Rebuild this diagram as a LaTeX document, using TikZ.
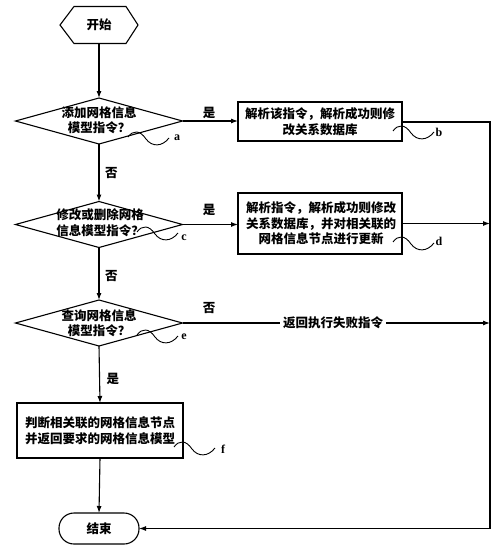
\documentclass[tikz,border=0pt]{standalone}
\usepackage{fontspec}
\newfontfamily\cjk{Noto Sans CJK SC}
\newfontfamily\lbl{Liberation Serif}
\usetikzlibrary{shapes.geometric,arrows.meta}
\begin{document}
\begin{tikzpicture}[x=1pt,y=-1pt,
  line width=1.1pt,
  every node/.style={inner sep=0pt,outer sep=0pt},
  txt/.style={font=\cjk\bfseries\fontsize{12.5}{15.5}\selectfont,align=center},
  dec/.style={draw,diamond,minimum width=167pt,minimum height=46pt},
  proc/.style={draw,rectangle,minimum width=164pt},
  term/.style={draw,rectangle,rounded corners=15pt,minimum width=80pt,minimum height=31pt,font=\cjk\bfseries\fontsize{12.5}{15}\selectfont},
  yn/.style={font=\cjk\bfseries\fontsize{12.5}{15}\selectfont},
  arr/.style={-{Latex[length=7pt,width=5pt]}},
  wv/.style={line width=0.9pt},
  lab/.style={font=\lbl\bfseries\fontsize{12}{14}\selectfont},
  wave/.pic={\draw[wv] (0,0) .. controls (5,-7) and (12,-7) .. (18,2) .. controls (24,10) and (34,10) .. (41,1);}
]
\useasboundingbox (0,0) rectangle (500,554);

% start hexagon
\node[minimum width=78pt,minimum height=37pt,font=\cjk\bfseries\fontsize{12.5}{15}\selectfont] (start) at (99,25) {开始};
\draw (start.west) -- ([xshift=14pt]start.north west) -- ([xshift=-12pt]start.north east) -- (start.east)
  -- ([xshift=-12pt]start.south east) -- ([xshift=14pt]start.south west) -- cycle;

% decisions
\node[dec] (d1) at (99,121) {};
\node[txt] (d1t) at (99,120) {添加网格信息\\模型指令？};
\node[dec] (d2) at (99,224.5) {};
\node[txt] (d2t) at (100,222.5) {修改或删除网格\\信息模型指令？};
\node[dec] (d3) at (99,323) {};
\node[txt] (d3t) at (99,323) {查询网格信息\\模型指令？};

% process boxes
\node[proc,minimum height=39pt] (b) at (320,121.5) {};
\node[txt] (bt) at (320,121.5) {解析该指令，解析成功则修\\改关系数据库};
\node[proc,minimum height=61pt] (d) at (320,223.5) {};
\node[txt] (dt) at (321,223.5) {解析指令，解析成功则修改\\关系数据库，并对相关联的\\网格信息节点进行更新};
\node[draw,rectangle,minimum width=166pt,minimum height=55pt] (f) at (100,430.5) {};
\node[txt] (ft) at (100,430.5) {判断相关联的网格信息节点\\并返回要求的网格信息模型};

% end
\node[term] (end) at (99,528.5) {结束};

% right collector line
\coordinate (rx) at (490,0);

% main flow
\draw[arr] (start.south) -- (d1.north);
\draw[arr] (d1.south) -- node[yn,pos=0.5,anchor=west,xshift=6pt] (n1) {否} (d2.north);
\draw[arr] (d2.south) -- node[yn,pos=0.55,anchor=west,xshift=6pt] (n2) {否} (d3.north);
\draw[arr] (d3.south) -- node[yn,pos=0.58,anchor=west,xshift=7pt] (y3) {是} (f.north);
\draw[arr] (f.south) -- (end.north);

\draw[arr] (d1.east) -- (d1.east -| b.west);
\node[yn] (y1) at (209,113) {是};
\draw[arr] (d2.east) -- (d2.east -| d.west);
\node[yn] (y2) at (209,210) {是};

\draw (b.east |- 0,122) -- (rx |- 0,122) -- (rx |- end.east);
\draw[arr] (rx |- end.east) -- (end.east);
\draw[arr] (d.east) -- (d.east -| rx);
\draw[arr] (d3.east) -- node[pos=0.49,fill=white,inner xsep=3pt,inner ysep=2pt,yn] (fail) {返回执行失败指令} (d3.east -| rx);
\node[yn] (n3) at (209,308) {否};

% squiggles with labels
\pic at (128,137) {wave};
\node[lab] (la) at (177,138) {a};
\pic at (393,131) {wave};
\node[lab] (lb) at (439,132) {b};
\pic at (137,232) {wave};
\node[lab] (lc) at (184,238) {c};
\pic at (393,242) {wave};
\node[lab] (ld) at (439,241) {d};
\pic at (137,335) {wave};
\node[lab] (le) at (184,337) {e};
\pic at (174,447) {wave};
\node[lab] (lf) at (223,449) {f};
\end{tikzpicture}
\end{document}
